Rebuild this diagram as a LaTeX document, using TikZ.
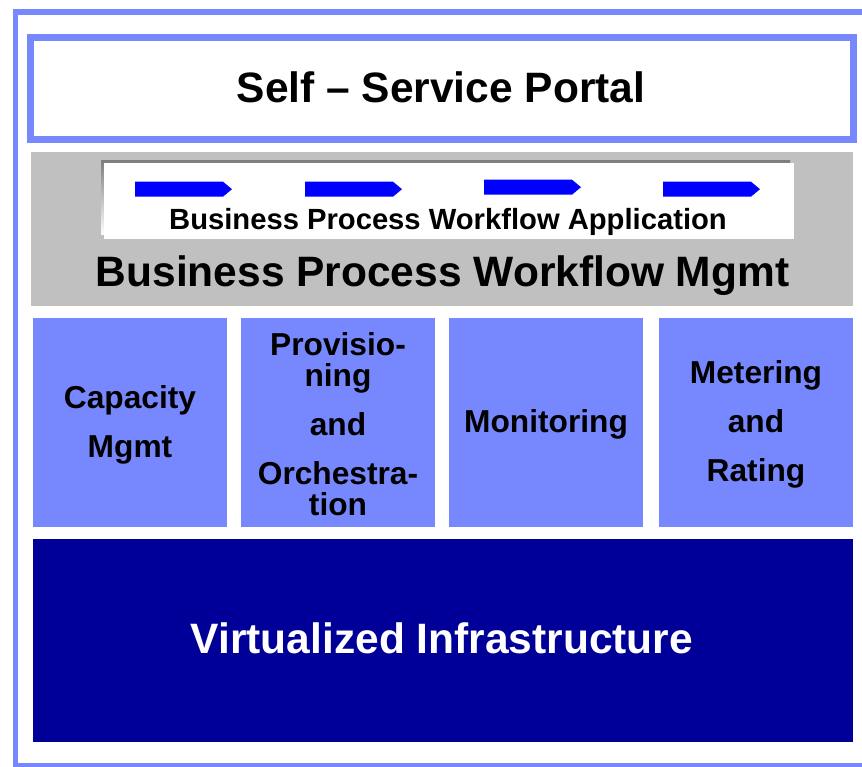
\documentclass[tikz,border=0pt]{standalone}
\usepackage{fontspec}
\setmainfont{Liberation Sans}
\definecolor{lblue}{HTML}{7788FF}
\definecolor{navy}{HTML}{000099}
\definecolor{band}{HTML}{C0C0C0}
\definecolor{shade}{HTML}{A6A6A6}
\definecolor{arrowblue}{HTML}{0000FF}
\tikzset{
  layerbox/.style={rectangle, inner sep=0pt, outer sep=0pt, fill=lblue, minimum width=194pt, minimum height=209pt, align=center, text=black,
    font=\fontsize{31.7pt}{31pt}\selectfont\bfseries},
  boxtext/.style={inner sep=0pt, align=center, text=black,
    font=\fontsize{31.7pt}{31pt}\selectfont\bfseries},
  flowarrow/.style={fill=arrowblue, draw=none},
  bigtitle/.style={font=\fontsize{42.5pt}{44pt}\selectfont\bfseries, inner sep=0pt, anchor=base}
}
\begin{document}
\begin{tikzpicture}[x=1pt,y=-1pt]
\clip (0,0) rectangle (862,767);
\fill[white] (0,0) rectangle (862,767);
% outer frame
\draw[lblue, line width=5.3pt] (15.3,12) rectangle (900,765.5);
% portal
\node[draw=lblue, line width=7pt, fill=white, minimum width=823pt, minimum height=102pt, inner sep=0pt] (portal) at (442,88.5) {};
\node[bigtitle] (portaltext) at (441,103) {Self – Service Portal};
% workflow band
\node[fill=band, minimum width=822pt, minimum height=154pt, inner sep=0pt] (band) at (442,229) {};
\fill[shade] (101,161) rectangle (790,235);
\node[fill=white, minimum width=690pt, minimum height=76pt, inner sep=0pt] (app) at (449,201) {};
\foreach \x/\dy in {135/0,305/0,484/-2,663/0}{
  \fill[flowarrow] (\x,181.7+\dy) -- (\x+88,181.7+\dy) -- (\x+97,189.2+\dy) -- (\x+88,196.7+\dy) -- (\x,196.7+\dy) -- cycle;
}
\node[font=\fontsize{29.2pt}{30pt}\selectfont\bfseries, inner sep=0pt, anchor=base] (apptext) at (448,229.5) {Business Process Workflow Application};
\node[bigtitle] (mgmt) at (442.5,287) {Business Process Workflow Mgmt};
% four boxes
\node[layerbox] (cap) at (130,422.5) {};
\node[layerbox] (prov) at (338,422.5) {};
\node[layerbox] (mon) at (546,422.5) {};
\node[layerbox] (met) at (756,422.5) {};
\node[boxtext] (captext) at (130,424.5) {Capacity\\[18pt]Mgmt};
\node[boxtext] (provtext) at (338,424) {Provisio-\\ning\\[18pt]and\\[18pt]Orchestra-\\tion};
\node[boxtext] (montext) at (546,424.5) {Monitoring};
\node[boxtext] (mettext) at (756,424.5) {Metering\\[18pt]and\\[18pt]Rating};
% infrastructure
\node[fill=navy, minimum width=820pt, minimum height=203pt, inner sep=0pt] (infra) at (443,640.5) {};
\node[bigtitle, text=white] (infratext) at (442,653) {Virtualized Infrastructure};
\end{tikzpicture}
\end{document}
